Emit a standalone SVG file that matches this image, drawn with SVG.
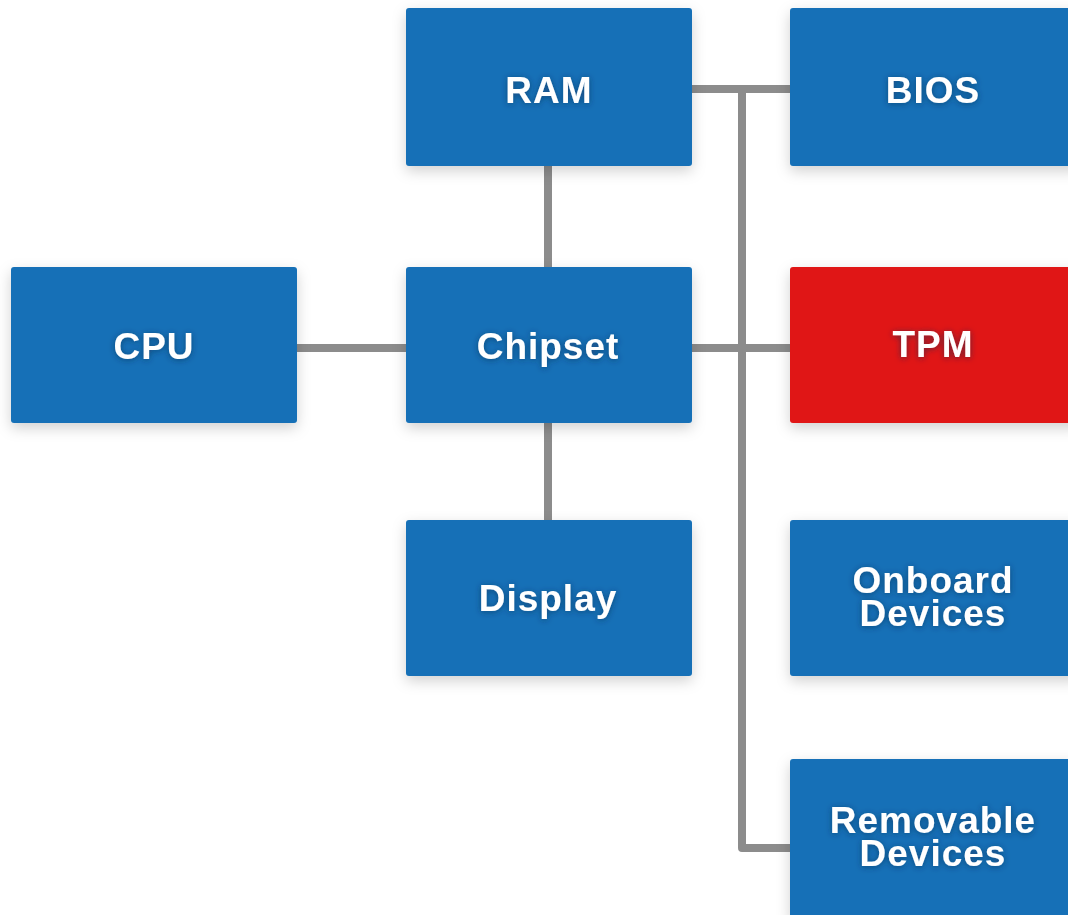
<svg xmlns="http://www.w3.org/2000/svg" width="1068" height="915" viewBox="0 0 1068 915">
<style>
.box{fill:#1570b7;filter:url(#sh)}
.red{fill:#e01515}
.lbl{font-family:"Liberation Sans",Arial,sans-serif;font-weight:bold;font-size:37px;letter-spacing:1px;fill:#ffffff;text-anchor:middle;filter:url(#tsh)}
.wire{fill:none;stroke:#8c8c8c;stroke-width:8}
</style>
<defs>
<filter id="sh" x="-10%" y="-15%" width="120%" height="135%">
<feDropShadow dx="0" dy="5" stdDeviation="7" flood-color="#000" flood-opacity="0.18"/>
</filter>
<filter id="tsh" x="-20%" y="-30%" width="140%" height="160%">
<feDropShadow dx="0" dy="1" stdDeviation="3" flood-color="#0a2a50" flood-opacity="0.6"/>
</filter>
</defs>
<rect width="1068" height="915" fill="#ffffff"/>
<g id="connectors">
<line class="wire" x1="548" y1="166" x2="548" y2="267"/>
<line class="wire" x1="548" y1="423" x2="548" y2="520"/>
<line class="wire" x1="297" y1="348" x2="406" y2="348"/>
<line class="wire" x1="692" y1="348" x2="790" y2="348"/>
<line class="wire" x1="692" y1="89" x2="790" y2="89"/>
<path class="wire" d="M742 89 V848 H790" stroke-linejoin="round"/>
</g>
<g id="ram"><rect class="box" x="406" y="8" width="286" height="158" rx="3"/><text class="lbl" x="549" y="103">RAM</text></g>
<g id="bios"><rect class="box" x="790" y="8" width="290" height="158" rx="3"/><text class="lbl" x="933" y="103">BIOS</text></g>
<g id="cpu"><rect class="box" x="11" y="267" width="286" height="156" rx="3"/><text class="lbl" x="154" y="359">CPU</text></g>
<g id="chipset"><rect class="box" x="406" y="267" width="286" height="156" rx="3"/><text class="lbl" x="548" y="359">Chipset</text></g>
<g id="tpm"><rect class="box red" x="790" y="267" width="290" height="156" rx="3"/><text class="lbl" x="933" y="357">TPM</text></g>
<g id="display"><rect class="box" x="406" y="520" width="286" height="156" rx="3"/><text class="lbl" x="548" y="611">Display</text></g>
<g id="onboard"><rect class="box" x="790" y="520" width="290" height="156" rx="3"/><text class="lbl" x="933" y="593">Onboard<tspan x="933" dy="33">Devices</tspan></text></g>
<g id="removable"><rect class="box" x="790" y="759" width="290" height="160" rx="3"/><text class="lbl" x="933" y="833">Removable<tspan x="933" dy="33">Devices</tspan></text></g>
</svg>
